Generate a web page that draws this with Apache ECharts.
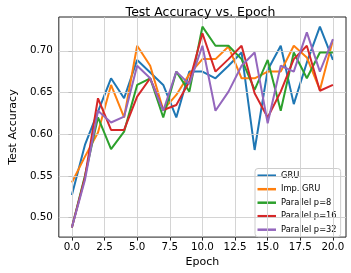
<!DOCTYPE html>
<html>
<head>
<meta charset="utf-8">
<script src="https://cdn.jsdelivr.net/npm/echarts@6/dist/echarts.min.js"></script>
<style>html,body{margin:0;padding:0;background:#fff}#c{width:351px;height:273px}</style>
</head>
<body>
<div id="c"></div>
<script>
const epochs = [0,1,2,3,4,5,6,7,8,9,10,11,12,13,14,15,16,17,18,19,20];
const gru    = [0.527,0.587,0.627,0.667,0.643,0.689,0.674,0.659,0.620,0.675,0.675,0.667,0.682,0.698,0.581,0.677,0.706,0.636,0.686,0.729,0.689];
const impGru = [0.542,0.573,0.602,0.659,0.620,0.706,0.682,0.629,0.647,0.672,0.690,0.690,0.705,0.667,0.667,0.675,0.675,0.706,0.692,0.653,0.713];
const p8     = [0.488,0.550,0.620,0.582,0.603,0.659,0.667,0.620,0.675,0.651,0.729,0.706,0.706,0.690,0.653,0.689,0.628,0.698,0.667,0.698,0.698];
const p16    = [0.488,0.548,0.643,0.605,0.605,0.645,0.667,0.629,0.635,0.663,0.721,0.675,0.690,0.706,0.649,0.620,0.651,0.690,0.706,0.652,0.659];
const p32    = [0.488,0.545,0.628,0.614,0.621,0.682,0.667,0.628,0.675,0.660,0.706,0.628,0.651,0.682,0.698,0.613,0.682,0.675,0.722,0.675,0.714];
const xTicks = [0,2.5,5,7.5,10,12.5,15,17.5,20];
const yTicks = [0.50,0.55,0.60,0.65,0.70];
const names  = ['GRU','Imp. GRU','Parallel p=8','Parallel p=16','Parallel p=32'];
const colors = ['#1f77b4','#ff7f0e','#2ca02c','#d62728','#9467bd'];
const values = [gru, impGru, p8, p16, p32];

const font = 'DejaVu Sans';
const chart = echarts.init(document.getElementById('c'), null, {renderer:'canvas'});
const series = values.map((v,i)=>({
  name: names[i], type:'line', symbol:'none', showSymbol:false,
  data: epochs.map((e,j)=>[e, v[j]]),
  lineStyle:{color:colors[i], width:2}, itemStyle:{color:colors[i]},
  animation:false, z: 3+i
}));
// grid lines at tick values
series.push({
  type:'line', data:[], silent:true, animation:false,
  markLine:{symbol:'none', silent:true, animation:false, label:{show:false},
    lineStyle:{color:'#cfcfcf', width:0.9, type:'solid'},
    data: xTicks.map(t=>({xAxis:t})).concat(yTicks.map(t=>({yAxis:t})))}
});
chart.setOption({
  animation:false,
  title:{text:'Test Accuracy vs. Epoch', left:195.5, top:1, textAlign:'center',
    textStyle:{fontFamily:font, fontSize:12.5, fontWeight:'normal', color:'#000'}},
  grid:{left:45, right:5, top:17, bottom:31, show:true, borderColor:'#222', borderWidth:1, backgroundColor:'transparent'},
  xAxis:{type:'value', min:-1, max:21,
    name:'Epoch', nameLocation:'middle', nameGap:17,
    nameTextStyle:{fontFamily:font, fontSize:11, color:'#000'},
    axisLine:{show:false}, splitLine:{show:false},
    axisTick:{show:true, customValues:xTicks, length:3.5, lineStyle:{color:'#222'}},
    axisLabel:{customValues:xTicks, fontFamily:font, fontSize:10.3, color:'#000', margin:5,
      formatter:v=>v.toFixed(1)}},
  yAxis:{type:'value', min:0.4765, max:0.7405,
    name:'Test Accuracy', nameLocation:'middle', nameGap:30,
    nameTextStyle:{fontFamily:font, fontSize:11, color:'#000'},
    axisLine:{show:false}, splitLine:{show:false},
    axisTick:{show:true, customValues:yTicks, length:3.5, lineStyle:{color:'#222'}},
    axisLabel:{customValues:yTicks, fontFamily:font, fontSize:10.3, color:'#000', margin:6,
      formatter:v=>v.toFixed(2)}},
  legend:{data:names, orient:'vertical', left:255, top:168.5,
    icon:'rect', itemWidth:18.5, itemHeight:2.5, itemGap:3.5,
    padding:[2.2,4,2,2.5],
    backgroundColor:'rgba(255,255,255,0.85)', borderColor:'#cccccc', borderWidth:1, borderRadius:3,
    textStyle:{fontFamily:font, fontSize:8.3, color:'#000', lineHeight:10}},
  series: series
});
</script>
</body>
</html>
